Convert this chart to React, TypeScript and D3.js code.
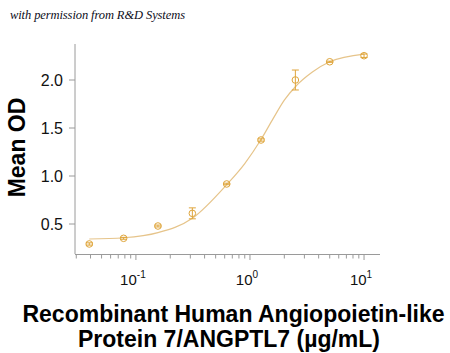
import React from "react";
import * as d3 from "d3";

const concentrations = [0.039, 0.078, 0.156, 0.3125, 0.625, 1.25, 2.5, 5, 10];
const meanOD = [0.292, 0.351, 0.479, 0.611, 0.917, 1.375, 2.0, 2.19, 2.253];
const errorOD = [0.012, 0.01, 0.01, 0.057, 0.008, 0.012, 0.104, 0.006, 0.018];

const curveX = [0.039, 0.078, 0.156, 0.3125, 0.625, 0.9, 1.25, 1.6, 2.0, 2.5, 3.5, 5, 10];
const curveY = [0.344, 0.357, 0.41, 0.56, 0.91, 1.13, 1.38, 1.6, 1.79, 1.93, 2.08, 2.19, 2.27];

const yTicks = [0.5, 1.0, 1.5, 2.0];
const xMajorTicks = [0.1, 1, 10];
const xMajorExponents = ["-1", "0", "1"];

const W = 450;
const H = 353;

export default function App() {
  const x = d3.scaleLog().domain([0.02924, 13.8]).range([75, 380]);
  const y = d3.scaleLinear().domain([0.1875, 2.375]).range([254, 44]);

  const minorTicks: number[] = [];
  for (let e = -2; e <= 1; e++) {
    for (let m = 1; m <= 9; m++) {
      const v = m * Math.pow(10, e);
      if (v >= 0.0295 && v <= 13.8 && m !== 1) minorTicks.push(v);
    }
  }

  const line = d3
    .line<number>()
    .x((_, i) => x(curveX[i]))
    .y((d) => y(d))
    .curve(d3.curveMonotoneX);

  const pointColor = "#DFA53A";
  const curveColor = "#E6C48A";
  const axisColor = "#9a9a9a";

  return (
    <svg
      width={W}
      height={H}
      style={{ position: "absolute", left: 0, top: 0, background: "#fff" }}
    >
      <text
        x={10}
        y={19}
        fontFamily="Liberation Serif, serif"
        fontStyle="italic"
        fontSize={12.5}
        fill="#0d0d1a"
        textLength={175}
      >
        with permission from R&amp;D Systems
      </text>

      {/* axes */}
      <line x1={75} x2={75} y1={44} y2={254} stroke={axisColor} strokeWidth={1} />
      <line x1={75} x2={380} y1={254.5} y2={254.5} stroke={axisColor} strokeWidth={1} />

      {yTicks.map((t) => (
        <g key={t}>
          <line x1={69} x2={75} y1={y(t)} y2={y(t)} stroke={axisColor} />
          <text
            x={63}
            y={y(t) + 5.5}
            textAnchor="end"
            fontFamily="Liberation Sans, Arial, sans-serif"
            fontSize={16}
            fill="#111"
          >
            {t.toFixed(1)}
          </text>
        </g>
      ))}

      {minorTicks.map((t) => (
        <line key={t} x1={x(t)} x2={x(t)} y1={255} y2={258.5} stroke={axisColor} />
      ))}
      {xMajorTicks.map((t, i) => (
        <g key={t}>
          <line x1={x(t)} x2={x(t)} y1={255} y2={260} stroke={axisColor} />
          <text
            x={x(t) - 3}
            y={285}
            textAnchor="middle"
            fontFamily="Liberation Sans, Arial, sans-serif"
            fontSize={15}
            fill="#111"
          >
            10
            <tspan dy={-7} fontSize={10}>
              {xMajorExponents[i]}
            </tspan>
          </text>
        </g>
      ))}

      <text
        transform={`translate(25,147.5) rotate(-90)`}
        textAnchor="middle"
        fontFamily="Liberation Sans, Arial, sans-serif"
        fontWeight="bold"
        fontSize={23}
        fill="#000"
      >
        Mean OD
      </text>

      <text
        x={233.5}
        y={322}
        textAnchor="middle"
        fontFamily="Liberation Sans, Arial, sans-serif"
        fontWeight="bold"
        fontSize={23}
        fill="#000"
      >
        Recombinant Human Angiopoietin-like
      </text>
      <text
        x={229}
        y={347}
        textAnchor="middle"
        fontFamily="Liberation Sans, Arial, sans-serif"
        fontWeight="bold"
        fontSize={23}
        fill="#000"
      >
        Protein 7/ANGPTL7 (µg/mL)
      </text>

      {/* fitted curve */}
      <path d={line(curveY) || ""} fill="none" stroke={curveColor} strokeWidth={1.2} />

      {/* points with error bars */}
      {concentrations.map((c, i) => {
        const cx = x(c);
        const top = y(meanOD[i] + errorOD[i]);
        const bot = y(meanOD[i] - errorOD[i]);
        return (
          <g key={c} stroke={pointColor} fill="none" strokeWidth={1}>
            <line x1={cx} x2={cx} y1={top} y2={bot} />
            <line x1={cx - 3.5} x2={cx + 3.5} y1={top} y2={top} />
            <line x1={cx - 3.5} x2={cx + 3.5} y1={bot} y2={bot} />
            <circle cx={cx} cy={y(meanOD[i])} r={3.3} />
          </g>
        );
      })}
    </svg>
  );
}
